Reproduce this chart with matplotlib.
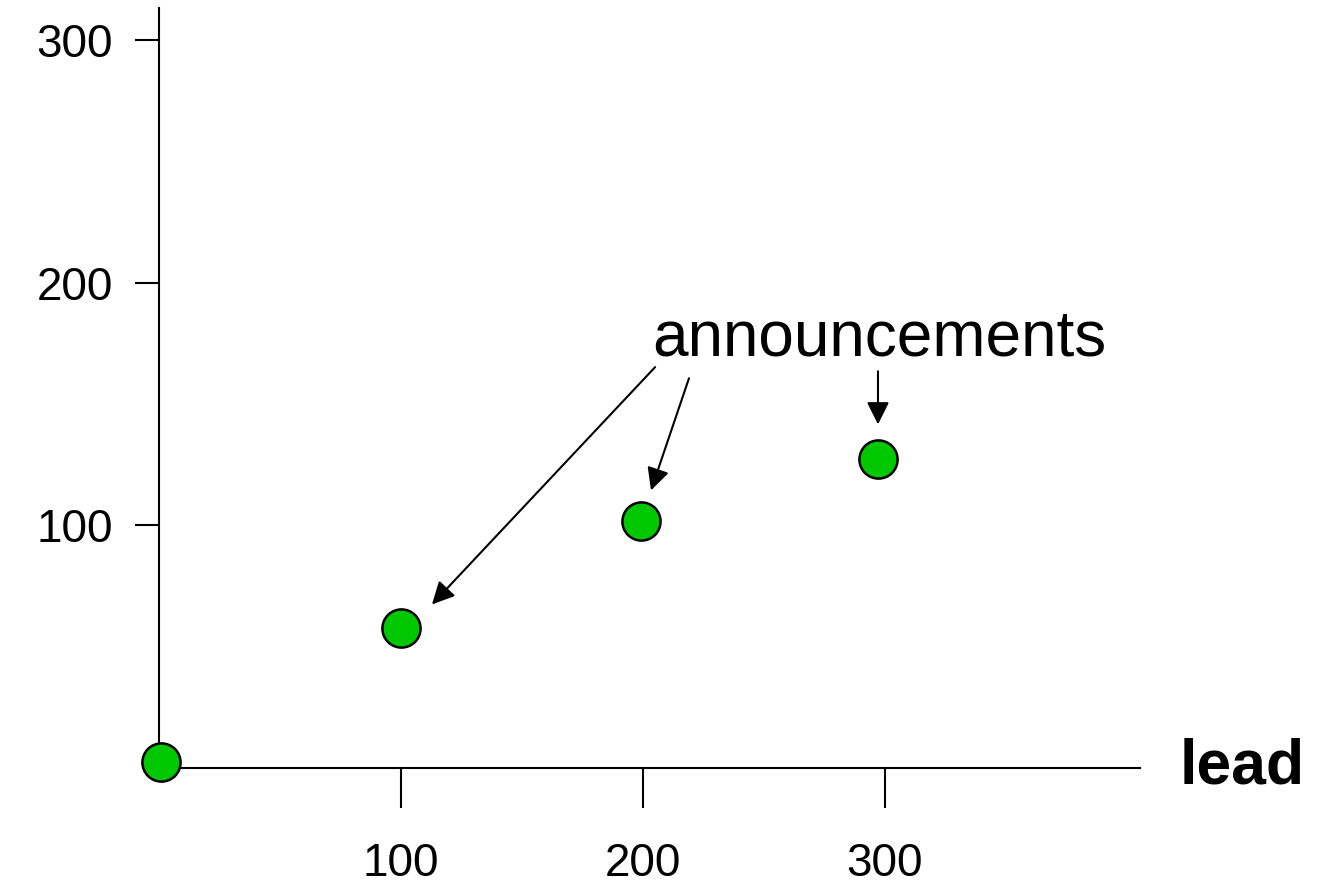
import matplotlib
matplotlib.use("Agg")
import matplotlib.pyplot as plt

plt.rcParams['font.family'] = ['Liberation Sans', 'DejaVu Sans']

# data
lead = [0.8, 100, 199, 297]
value = [2.3, 57.9, 101.6, 127.2]
xticks = [100, 200, 300]
yticks = [100, 200, 300]

# arrows: (start of tail, point of head) in data units
arrows = [
    ((205.0, 165.2), (112.8, 67.4)),
    ((219.0, 160.6), (203.3, 114.4)),
    ((297.1, 163.5), (297.1, 141.6)),
]

fig = plt.figure(figsize=(13.24, 8.83), dpi=100)
ax = fig.add_axes([159 / 1324, 1 - 768 / 883, (1140 - 159) / 1324, (768 - 8) / 883])

ax.set_xlim(0, (1140 - 159) / 2.42)
ax.set_ylim(0, (767.5 - 8) / 2.425)

for s in ['top', 'right']:
    ax.spines[s].set_visible(False)
for s in ['left', 'bottom']:
    ax.spines[s].set_linewidth(1.5)

ax.set_xticks(xticks)
ax.set_yticks(yticks)
ax.tick_params(axis='x', direction='out', length=29, width=1.5, pad=24, labelsize=33)
ax.tick_params(axis='y', direction='out', length=17, width=1.5, pad=16, labelsize=33)

ax.plot(lead, value, 'o', markersize=27.5, markerfacecolor='#00c800',
        markeredgecolor='black', markeredgewidth=1.8, clip_on=False, zorder=5)

for (x0, y0), (x1, y1) in arrows:
    ax.annotate('', xy=(x1, y1), xytext=(x0, y0),
                arrowprops=dict(arrowstyle='-|>', color='black', lw=1.5,
                                mutation_scale=34, shrinkA=0, shrinkB=0))

ax.text(203.7, 170.1, 'announcements', fontsize=46, ha='left', va='baseline')
ax.text(421.9, -6.4, 'lead', fontsize=45, fontweight='bold', ha='left',
        va='baseline', clip_on=False)

fig.savefig('out.png', dpi=100)
